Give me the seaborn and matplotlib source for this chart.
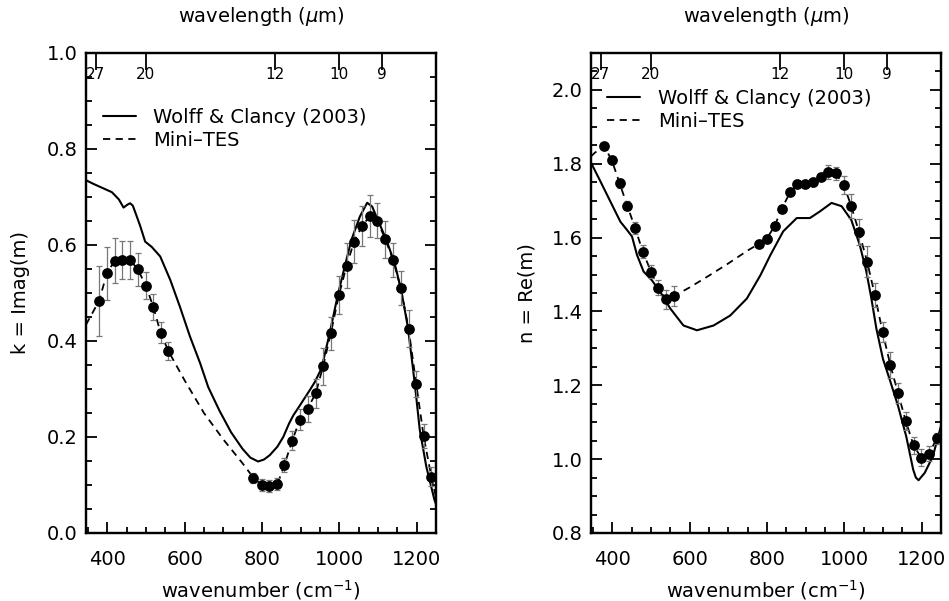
import numpy as np
import pandas as pd
import matplotlib
matplotlib.use("Agg")
import matplotlib.pyplot as plt
from matplotlib.lines import Line2D
from matplotlib.ticker import MultipleLocator, FormatStrFormatter
import seaborn as sns

# ---- imaginary index k: Wolff & Clancy (2003) ----
wc_k_wn = [345, 365, 390, 412, 430, 442, 452, 459, 466, 472, 485, 498, 515, 537,
           563, 588, 614, 640, 661, 690, 720, 750, 770, 790, 805, 820, 840, 855,
           870, 881, 895, 907, 924, 937, 954, 975, 997, 1014, 1031, 1053, 1072,
           1085, 1096, 1122, 1143, 1160, 1177, 1190, 1198, 1208, 1225, 1246, 1250]
wc_k = [0.735, 0.727, 0.718, 0.710, 0.695, 0.678, 0.684, 0.687, 0.682, 0.669,
        0.640, 0.607, 0.596, 0.576, 0.527, 0.471, 0.409, 0.354, 0.304, 0.255,
        0.210, 0.175, 0.157, 0.149, 0.153, 0.162, 0.180, 0.200, 0.228, 0.245,
        0.262, 0.277, 0.298, 0.315, 0.343, 0.416, 0.499, 0.555, 0.610, 0.659,
        0.688, 0.680, 0.659, 0.610, 0.562, 0.506, 0.430, 0.346, 0.290, 0.215,
        0.138, 0.069, 0.060]

# ---- imaginary index k: Mini-TES ----
mt_k_wn = [379, 399, 419, 439, 459, 479, 500, 519, 538, 558, 778, 799, 819, 840,
           858, 878, 898, 918, 939, 958, 978, 999, 1019, 1038, 1059, 1079, 1098,
           1119, 1139, 1159, 1179, 1199, 1218, 1238]
mt_k = [0.484, 0.541, 0.567, 0.569, 0.569, 0.549, 0.515, 0.471, 0.417, 0.379,
        0.115, 0.100, 0.098, 0.102, 0.142, 0.192, 0.236, 0.259, 0.291, 0.347,
        0.416, 0.496, 0.557, 0.607, 0.640, 0.660, 0.651, 0.612, 0.569, 0.510,
        0.426, 0.310, 0.202, 0.117]
mt_k_err = [0.073, 0.055, 0.047, 0.040, 0.040, 0.035, 0.028, 0.027, 0.022, 0.018,
            0.010, 0.012, 0.012, 0.012, 0.015, 0.020, 0.022, 0.027, 0.030, 0.038,
            0.035, 0.040, 0.047, 0.045, 0.042, 0.044, 0.037, 0.039, 0.036, 0.035,
            0.038, 0.027, 0.025, 0.020]
# dashed curve nodes outside / between the plotted points
mt_k_extra_wn = [345, 360, 600, 650, 700, 750, 1250]
mt_k_extra = [0.434, 0.456, 0.318, 0.250, 0.195, 0.145, 0.075]

# ---- real index n: Wolff & Clancy (2003) ----
wc_n_wn = [345, 369, 395, 421, 438, 451, 464, 481, 502, 524, 550, 584, 619, 662,
           705, 748, 783, 809, 842, 877, 911, 937, 967, 993, 1018, 1040, 1057,
           1070, 1083, 1100, 1117, 1139, 1160, 1178, 1185, 1192, 1208, 1229, 1250]
wc_n = [1.803, 1.753, 1.698, 1.643, 1.621, 1.603, 1.553, 1.508, 1.485, 1.453,
        1.408, 1.362, 1.349, 1.362, 1.389, 1.435, 1.498, 1.553, 1.617, 1.653,
        1.653, 1.671, 1.694, 1.685, 1.648, 1.580, 1.508, 1.435, 1.353, 1.271,
        1.217, 1.144, 1.062, 0.972, 0.950, 0.943, 0.963, 1.008, 1.090]

# ---- real index n: Mini-TES ----
mt_n_wn = [379, 399, 419, 439, 459, 479, 500, 519, 539, 560, 779, 799, 820, 838,
           860, 878, 898, 918, 939, 958, 978, 999, 1018, 1038, 1059, 1079, 1099,
           1119, 1139, 1159, 1179, 1199, 1219, 1239]
mt_n = [1.848, 1.809, 1.747, 1.686, 1.626, 1.562, 1.508, 1.464, 1.433, 1.442,
        1.583, 1.596, 1.632, 1.678, 1.723, 1.744, 1.745, 1.750, 1.765, 1.778,
        1.774, 1.742, 1.685, 1.615, 1.535, 1.444, 1.344, 1.255, 1.178, 1.103,
        1.037, 1.004, 1.015, 1.056]
mt_n_err = [0.008, 0.010, 0.012, 0.012, 0.015, 0.018, 0.018, 0.020, 0.025, 0.026,
            0.008, 0.008, 0.008, 0.008, 0.008, 0.008, 0.008, 0.010, 0.010, 0.018,
            0.018, 0.025, 0.032, 0.036, 0.043, 0.032, 0.027, 0.036, 0.027, 0.025,
            0.024, 0.023, 0.020, 0.016]
mt_n_extra_wn = [345, 355, 600, 650, 700, 750, 1250]
mt_n_extra = [1.820, 1.830, 1.465, 1.497, 1.530, 1.565, 1.080]

wl_ticks = [27, 20, 12, 10, 9, 8]
wl_labels = ['27', '20', '12', '10', '9', '']

sns.set_theme(style="ticks")
plt.rcParams['font.family'] = ['DejaVu Sans']
plt.rcParams['mathtext.fontset'] = 'dejavusans'
for key in ['text.color', 'axes.labelcolor', 'xtick.color', 'ytick.color',
            'axes.edgecolor']:
    plt.rcParams[key] = 'black'

FS = 14
W, H = 949, 601
fig = plt.figure(figsize=(W / 100, H / 100), dpi=100)
ax_k = fig.add_axes([86 / W, 1 - 533 / H, 350 / W, 480 / H])
ax_n = fig.add_axes([591 / W, 1 - 533 / H, 350 / W, 480 / H])


def panel(ax, wc_wn, wc_val, pts_wn, pts_val, pts_err, ex_wn, ex_val,
          ylim, ylabel, label_x, leg_anchor):
    # dashed Mini-TES curve through the points
    line = pd.DataFrame({'wn': list(pts_wn) + list(ex_wn),
                         'v': list(pts_val) + list(ex_val)}).sort_values('wn')
    sns.lineplot(data=line, x='wn', y='v', ax=ax, color='black', lw=1.3,
                 errorbar=None, sort=True)
    ax.lines[-1].set_dashes([4, 3])
    # model curve
    wc = pd.DataFrame({'wn': wc_wn, 'v': wc_val})
    sns.lineplot(data=wc, x='wn', y='v', ax=ax, color='black', lw=1.5,
                 errorbar=None, sort=True)
    # points with error bars
    ax.errorbar(pts_wn, pts_val, yerr=pts_err, fmt='none', ecolor='#777777',
                elinewidth=0.9, capsize=2.2, capthick=0.9, zorder=3)
    pts = pd.DataFrame({'wn': pts_wn, 'v': pts_val})
    sns.scatterplot(data=pts, x='wn', y='v', ax=ax, color='black', s=60,
                    edgecolor='black', linewidth=0, zorder=4)

    ax.set_xlim(345, 1250)
    ax.set_ylim(*ylim)
    ax.xaxis.set_major_locator(MultipleLocator(200))
    ax.xaxis.set_minor_locator(MultipleLocator(50))
    ax.yaxis.set_major_locator(MultipleLocator(0.2))
    ax.yaxis.set_minor_locator(MultipleLocator(0.05))
    ax.yaxis.set_major_formatter(FormatStrFormatter('%.1f'))
    ax.tick_params(which='both', direction='in', top=False, right=True,
                   labelsize=FS, width=1.3, colors='black')
    ax.tick_params(axis='x', which='both', pad=12)
    ax.tick_params(axis='y', which='both', pad=6)
    ax.tick_params(which='major', length=8)
    ax.tick_params(which='minor', length=4)
    for s in ax.spines.values():
        s.set_linewidth(1.6)
        s.set_color('black')
    ax.set_xlabel('wavenumber (cm$^{-1}$)', fontsize=FS)
    ax.xaxis.set_label_coords(0.5, -0.093)
    ax.set_ylabel(ylabel, fontsize=FS)
    ax.yaxis.set_label_coords(label_x, 0.5)

    # wavelength axis on top, labels inside the frame
    top = ax.twiny()
    top.set_xlim(ax.get_xlim())
    top.set_xticks([1e4 / w for w in wl_ticks])
    top.set_xticklabels(wl_labels)
    top.xaxis.set_minor_locator(matplotlib.ticker.NullLocator())
    top.tick_params(axis='x', direction='in', length=12, width=1.3,
                    labelsize=11, pad=-21, colors='black')
    for s in top.spines.values():
        s.set_linewidth(1.6)
    ax.text(0.5, 1 + 36 / 480, 'wavelength ($\\mu$m)', transform=ax.transAxes,
            ha='center', va='center', fontsize=FS)

    handles = [Line2D([], [], color='black', lw=1.5),
               Line2D([], [], color='black', lw=1.3, dashes=[4, 3])]
    ax.legend(handles, ['Wolff & Clancy (2003)', 'Mini\u2013TES'],
              loc='upper left', bbox_to_anchor=leg_anchor, frameon=False,
              fontsize=FS, handlelength=1.7, handletextpad=0.9,
              labelspacing=0.2, borderaxespad=0, borderpad=0)


panel(ax_k, wc_k_wn, wc_k, mt_k_wn, mt_k, mt_k_err, mt_k_extra_wn, mt_k_extra,
      (0.0, 1.0), 'k = Imag(m)', -0.16, (0.048, 0.885))
panel(ax_n, wc_n_wn, wc_n, mt_n_wn, mt_n, mt_n_err, mt_n_extra_wn, mt_n_extra,
      (0.8, 2.1), 'n = Re(m)', -0.157, (0.046, 0.925))

fig.savefig('out.png', dpi=100)
